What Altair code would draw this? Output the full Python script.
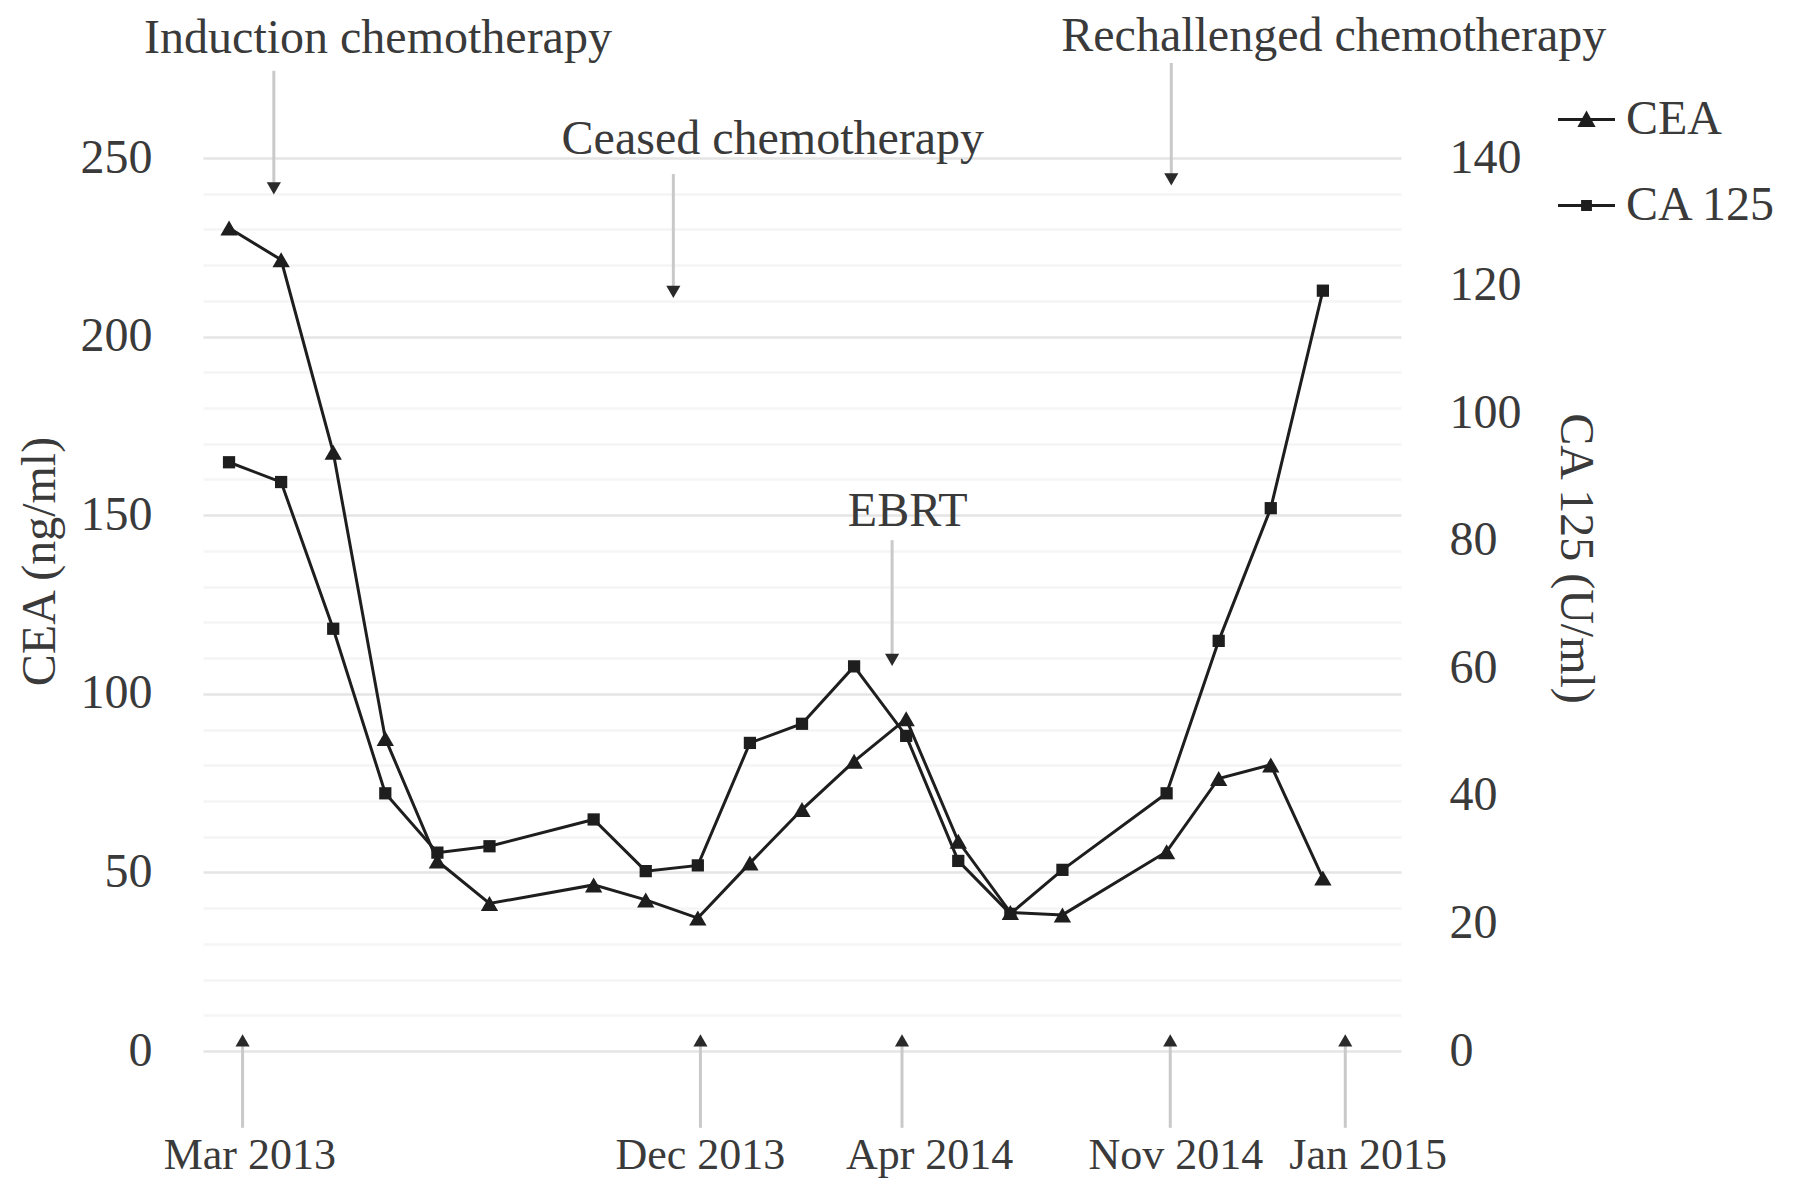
import altair as alt
import pandas as pd

# ---------------- data ----------------
slots = [0, 1, 2, 3, 4, 5, 7, 8, 9, 10, 11, 12, 13, 14, 15, 16, 18, 19, 20, 21]
cea = [230.4, 221.5, 167.6, 87.5, 53.2, 41.3, 46.5, 42.3, 37.2, 52.6,
       67.6, 81.1, 93.0, 58.7, 38.8, 38.1, 55.8, 76.3, 80.1, 48.4]
ca125 = [92.3, 89.2, 66.2, 40.4, 31.1, 32.1, 36.3, 28.2, 29.1, 48.3,
         51.3, 60.3, 49.4, 29.8, 21.5, 28.4, 40.4, 64.3, 85.1, 119.2]

series_names = ["CEA", "CA 125"]

top_labels = ["Induction chemotherapy", "Ceased chemotherapy",
              "Rechallenged chemotherapy", "EBRT"]
top_label_x = [2.86, 10.44, 21.21, 13.03]
top_label_y = [283.3, 255.0, 283.8, 151.0]
top_arrow_x = [0.86, 8.53, 18.09, 12.73]
top_arrow_from = [274.4, 245.5, 276.6, 143.0]
top_arrow_to = [241.5, 212.5, 244.0, 109.5]

date_labels = ["Mar 2013", "Dec 2013", "Apr 2014", "Nov 2014", "Jan 2015"]
date_label_x = [0.40, 9.05, 13.45, 18.18, 21.87]
date_arrow_x = [0.26, 9.05, 12.92, 18.07, 21.43]
date_arrow_from = [-21.5] * 5
date_arrow_to = [3.0] * 5
date_label_y = [-29.5] * 5

# ---------------- style ----------------
FONT = "Liberation Serif"
TXT = "#3a3a3a"
LINE = "#1e1e1e"
ARROW = "#c9c9c9"
FS = 48

cea_df = pd.DataFrame({"s": slots, "v": cea})
ca_df = pd.DataFrame({"s": slots, "v": ca125})
top_df = pd.DataFrame({"label": top_labels, "tx": top_label_x, "ty": top_label_y})
top_arrow_df = pd.DataFrame({"ax": top_arrow_x, "a1": top_arrow_from, "a2": top_arrow_to})
date_df = pd.DataFrame({"label": date_labels, "tx": date_label_x, "ty": date_label_y})
date_arrow_df = pd.DataFrame({"ax": date_arrow_x, "a1": date_arrow_from, "a2": date_arrow_to})
legend_df = pd.DataFrame({"series": series_names})

xscale = alt.Scale(domain=[-0.5, 22.5], nice=False, zero=False)
yl_scale = alt.Scale(domain=[0, 250], nice=False, zero=True)
yr_scale = alt.Scale(domain=[0, 140], nice=False, zero=True)

left_axis = alt.Axis(
    values=list(range(0, 251, 10)),
    labelExpr="datum.value % 50 === 0 ? datum.label : ''",
    grid=True,
    gridColor={"condition": {"test": "datum.value % 50 === 0", "value": "#e5e5e5"},
               "value": "#f5f5f5"},
    gridWidth=2.5,
    ticks=False, domain=False,
    labelFont=FONT, labelFontSize=FS, labelColor=TXT, labelPadding=51,
    title="CEA (ng/ml)", titleFont=FONT, titleFontSize=FS, titleFontWeight="normal",
    titleColor=TXT, titleX=-163, titleY=403, titleAlign="center", titleBaseline="middle",
)
right_axis = alt.Axis(
    orient="right",
    values=list(range(0, 141, 20)),
    grid=False, ticks=False, domain=False,
    labelFont=FONT, labelFontSize=FS, labelColor=TXT, labelPadding=48,
    title="CA 125 (U/ml)", titleFont=FONT, titleFontSize=FS, titleFontWeight="normal",
    titleColor=TXT, titleAngle=90, titleX=173, titleY=400,
    titleAlign="center", titleBaseline="middle",
)

X = alt.X("s:Q", scale=xscale, axis=None)


def YL(field):
    return alt.Y(field, scale=yl_scale, axis=left_axis)


def YR(field):
    return alt.Y(field, scale=yr_scale, axis=right_axis)


cea_line = alt.Chart(cea_df).mark_line(color=LINE, strokeWidth=3).encode(
    x=X, y=YL("v:Q"))
cea_pts = alt.Chart(cea_df).mark_point(shape="triangle-up", filled=True, color=LINE,
                                       size=300, opacity=1).encode(
    x=X, y=YL("v:Q"))

top_rules = alt.Chart(top_arrow_df).mark_rule(color=ARROW, strokeWidth=3).encode(
    x=alt.X("ax:Q", scale=xscale, axis=None), y=YL("a1:Q"), y2="a2:Q")
top_heads = alt.Chart(top_arrow_df).mark_point(shape="triangle-down", filled=True,
                                               color="#2a2a2a", size=200, opacity=1).encode(
    x=alt.X("ax:Q", scale=xscale, axis=None), y=YL("a2:Q"))
top_text = alt.Chart(top_df).mark_text(font=FONT, fontSize=FS, color=TXT,
                                       align="center", baseline="middle").encode(
    x=alt.X("tx:Q", scale=xscale, axis=None), y=YL("ty:Q"), text="label:N")

date_rules = alt.Chart(date_arrow_df).mark_rule(color=ARROW, strokeWidth=3).encode(
    x=alt.X("ax:Q", scale=xscale, axis=None), y=YL("a1:Q"), y2="a2:Q")
date_heads = alt.Chart(date_arrow_df).mark_point(shape="triangle-up", filled=True,
                                                 color="#2a2a2a", size=200, opacity=1).encode(
    x=alt.X("ax:Q", scale=xscale, axis=None), y=YL("a2:Q"))
date_text = alt.Chart(date_df).mark_text(font=FONT, fontSize=44, color=TXT,
                                         align="center", baseline="middle").encode(
    x=alt.X("tx:Q", scale=xscale, axis=None), y=YL("ty:Q"), text="label:N")

left_layer = alt.layer(cea_line, cea_pts, top_rules, top_heads, top_text,
                       date_rules, date_heads, date_text)

ca_line = alt.Chart(ca_df).mark_line(color=LINE, strokeWidth=3).encode(
    x=X, y=YR("v:Q"))
ca_pts = alt.Chart(ca_df).mark_point(shape="square", filled=True, color=LINE,
                                     size=150, opacity=1).encode(
    x=X, y=YR("v:Q"))
right_layer = alt.layer(ca_line, ca_pts)

# legend symbols: a thin filled bar (the line) plus the marker, as one filled path
legend_shapes = [
    "M-1,-0.05L1,-0.05L1,0.05L-1,0.05Z M-0.32,0.26L0,-0.32L0.32,0.26Z",
    "M-1,-0.05L1,-0.05L1,0.05L-1,0.05Z M-0.19,-0.19L0.19,-0.19L0.19,0.19L-0.19,0.19Z",
]

legend_layer = alt.Chart(legend_df).transform_filter("false").mark_point(
    filled=True, color=LINE, opacity=1).encode(
    shape=alt.Shape(
        "series:N",
        scale=alt.Scale(domain=series_names, range=legend_shapes),
        legend=alt.Legend(title=None, orient="none", legendX=1355, legendY=-67,
                          labelFont=FONT, labelFontSize=FS, labelColor=TXT,
                          symbolSize=3249, symbolStrokeWidth=0,
                          symbolFillColor=LINE, symbolOpacity=1,
                          rowPadding=33, labelOffset=11, padding=0)))

chart = alt.layer(left_layer, right_layer, legend_layer).resolve_scale(
    y="independent").properties(
    width=1198, height=893,
    autosize=alt.AutoSizeParams(type="none"),
    padding={"left": 195, "top": 150, "right": 380, "bottom": 130},
    background="white",
).configure_view(stroke=None)

chart.save("out.html", embed_options={"renderer": "svg", "actions": False})
